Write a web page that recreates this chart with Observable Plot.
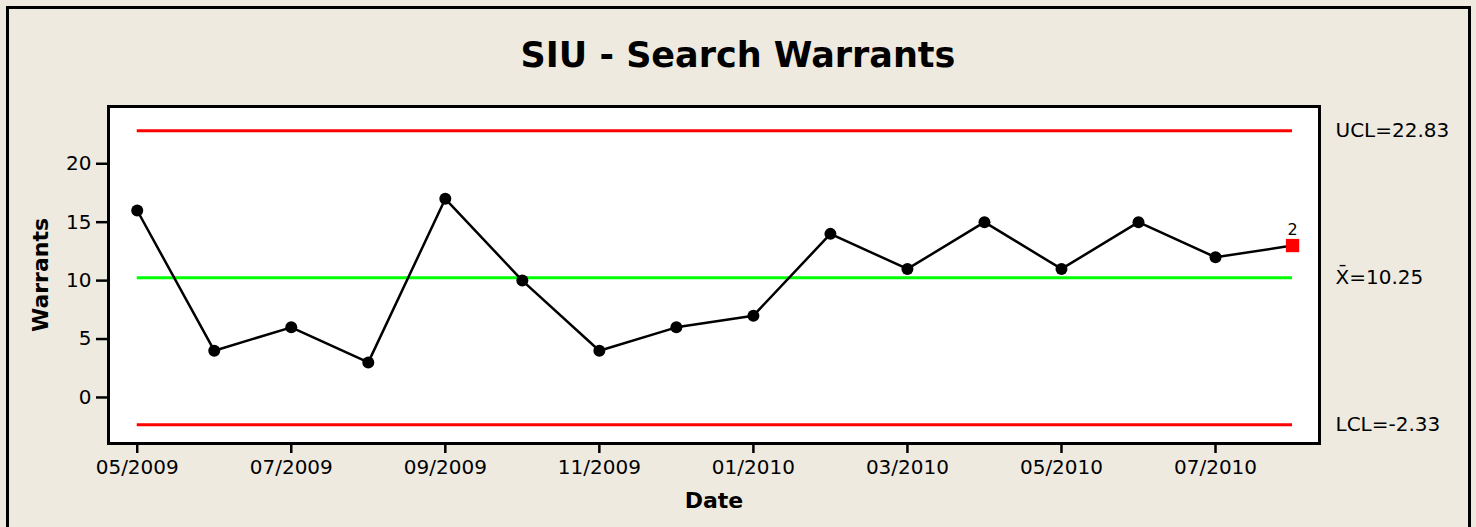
<!DOCTYPE html>
<html>
<head>
<meta charset="utf-8">
<script src="https://cdn.jsdelivr.net/npm/d3@7"></script>
<script src="https://cdn.jsdelivr.net/npm/@observablehq/plot@0.6"></script>
<style>
  html, body { margin: 0; padding: 0; background: #EEEAE0; }
  #chart svg { display: block; }
</style>
</head>
<body>
<div id="chart"></div>
<script>
const dateLabels = ["05/2009","06/2009","07/2009","08/2009","09/2009","10/2009","11/2009","12/2009",
                    "01/2010","02/2010","03/2010","04/2010","05/2010","06/2010","07/2010","08/2010"];
const warrants = [16, 4, 6, 3, 17, 10, 4, 6, 7, 14, 11, 15, 11, 15, 12, 13];
const ucl = 22.83;
const mean = 10.25;
const lcl = -2.33;
const yTicks = [0, 5, 10, 15, 20];
const flagged = [15];           // index of the point flagged by test 2
const flagLabels = ["2"];
const title = "SIU - Search Warrants";

const data = warrants.map((v, i) => ({i, v, label: dateLabels[i]}));
const xTicks = dateLabels.map((d, i) => i).filter(i => i % 2 === 0);
const n = warrants.length - 1;
const flagData = flagged.map((i, k) => ({i, v: warrants[i], t: flagLabels[k]}));
const limits = [
  {y: ucl, text: "UCL=" + ucl.toFixed(2), color: "#FF0000"},
  {y: mean, text: "X\u0304=" + mean.toFixed(2), color: "#00FF00"},
  {y: lcl, text: "LCL=" + lcl.toFixed(2), color: "#FF0000"}
];

const font = "DejaVu Sans, sans-serif";

const plot = Plot.plot({
  width: 1476,
  height: 527,
  marginLeft: 108,
  marginRight: 157,
  marginTop: 106,
  marginBottom: 84,
  style: {background: "#EEEAE0", fontFamily: font, fontSize: "20px", color: "#000"},
  x: {domain: [-0.373, 15.35], label: null},
  y: {domain: [-3.94, 24.9], label: null},
  marks: [
    Plot.frame({fill: "white"}),
    Plot.ruleY(limits, {y: "y", x1: 0, x2: n, stroke: "color", strokeWidth: 3}),
    Plot.line(data, {x: "i", y: "v", stroke: "black", strokeWidth: 2.5}),
    Plot.dot(data.filter(d => !flagged.includes(d.i)), {x: "i", y: "v", r: 6, fill: "black"}),
    Plot.dot(flagData, {x: "i", y: "v", symbol: "square", r: 7.5, fill: "#FF0000"}),
    Plot.text(flagData, {x: "i", y: "v", text: "t", dy: -16, fontSize: 16, fill: "black"}),
    Plot.text(limits, {y: "y", text: "text", frameAnchor: "right", textAnchor: "start", dx: 16, fontSize: 20, fill: "black"}),
    Plot.axisX({ticks: xTicks, tickFormat: i => dateLabels[i], tickSize: 10, tickPadding: 6, fontSize: 20, strokeWidth: 2.5, label: null}),
    Plot.axisY({ticks: yTicks, tickSize: 12, tickPadding: 5, fontSize: 20, strokeWidth: 2.5, label: null}),
    Plot.frame({stroke: "black", strokeWidth: 3}),
    Plot.text([title], {frameAnchor: "top", lineAnchor: "middle", dx: 24, dy: -51, fontSize: 35, fontWeight: "bold", fill: "black"}),
    Plot.text(["Warrants"], {frameAnchor: "left", textAnchor: "middle", lineAnchor: "middle", dx: -68, rotate: -90, fontSize: 22, fontWeight: "bold", fill: "black"}),
    Plot.text(["Date"], {frameAnchor: "bottom", lineAnchor: "middle", dy: 57, fontSize: 22, fontWeight: "bold", fill: "black"})
  ]
});

// outer panel border
d3.select(plot).append("rect")
  .attr("x", 7.5).attr("y", 7.5).attr("width", 1462).attr("height", 540)
  .attr("fill", "none").attr("stroke", "black").attr("stroke-width", 3);

document.getElementById("chart").appendChild(plot);
</script>
</body>
</html>
